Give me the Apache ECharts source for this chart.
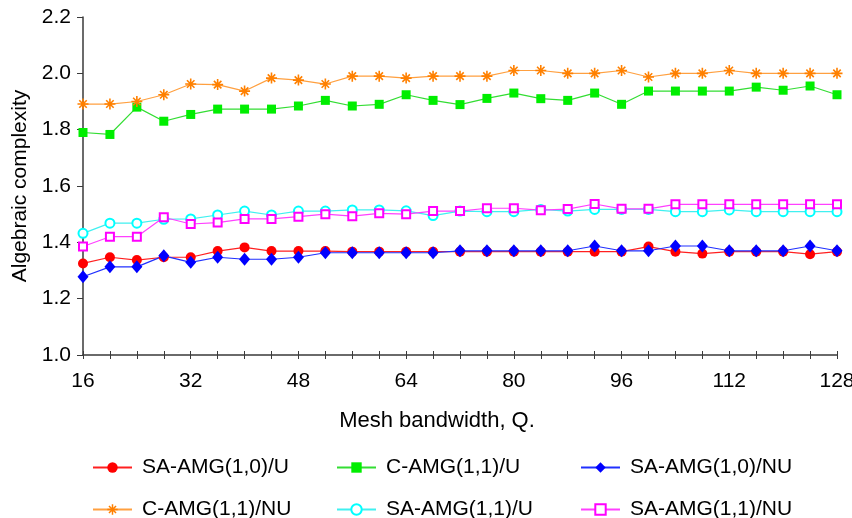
<!DOCTYPE html>
<html>
<head>
<meta charset="utf-8">
<script src="https://cdn.jsdelivr.net/npm/echarts@6/dist/echarts.min.js"></script>
<style>
html,body{margin:0;padding:0;background:#fff;}
#chart{width:852px;height:518px;}
</style>
</head>
<body>
<div id="chart"></div>
<script>
const meshQ = [16,20,24,28,32,36,40,44,48,52,56,60,64,68,72,76,80,84,88,92,96,100,104,108,112,116,120,124,128];
const saAmg10U  = [1.325,1.347,1.337,1.347,1.347,1.369,1.382,1.369,1.369,1.369,1.367,1.367,1.367,1.367,1.367,1.367,1.367,1.367,1.367,1.367,1.367,1.385,1.367,1.360,1.367,1.367,1.367,1.358,1.367];
const cAmg11U   = [1.790,1.783,1.880,1.830,1.854,1.873,1.873,1.873,1.884,1.904,1.884,1.890,1.924,1.904,1.889,1.911,1.930,1.910,1.904,1.930,1.890,1.937,1.937,1.937,1.937,1.951,1.940,1.955,1.924];
const saAmg10NU = [1.278,1.313,1.313,1.352,1.329,1.347,1.340,1.340,1.347,1.363,1.363,1.363,1.363,1.363,1.370,1.370,1.370,1.370,1.370,1.387,1.370,1.370,1.387,1.387,1.370,1.370,1.370,1.387,1.370];
const cAmg11NU  = [1.891,1.891,1.900,1.924,1.962,1.960,1.937,1.983,1.976,1.962,1.990,1.990,1.983,1.990,1.990,1.990,2.010,2.010,2.000,2.000,2.010,1.987,2.000,2.000,2.010,2.000,2.000,2.000,2.000];
const saAmg11U  = [1.432,1.468,1.468,1.482,1.483,1.497,1.511,1.497,1.511,1.511,1.515,1.515,1.512,1.495,1.511,1.509,1.509,1.517,1.511,1.517,1.517,1.517,1.509,1.509,1.515,1.509,1.509,1.509,1.509];
const saAmg11NU = [1.385,1.420,1.420,1.489,1.465,1.470,1.483,1.483,1.491,1.500,1.493,1.503,1.500,1.511,1.511,1.521,1.521,1.514,1.518,1.536,1.519,1.519,1.535,1.535,1.535,1.535,1.535,1.535,1.535];
const seriesNames = ['SA-AMG(1,0)/U','C-AMG(1,1)/U','SA-AMG(1,0)/NU','C-AMG(1,1)/NU','SA-AMG(1,1)/U','SA-AMG(1,1)/NU'];
const xTicks = [16,32,48,64,80,96,112,128];
const yTicks = [1.0,1.2,1.4,1.6,1.8,2.0,2.2];

const FONT = "'Liberation Sans', Arial, Helvetica, sans-serif";
const pair = arr => meshQ.map((q,i)=>[q,arr[i]]);
const asterisk = 'path://M5 0L5 10M0 5L10 5M1.6 1.6L8.4 8.4M8.4 1.6L1.6 8.4';

function mk(name, data, opts){
  return Object.assign({
    name, type:'line', data: pair(data), xAxisIndex:0, yAxisIndex:0,
    animation:false
  }, opts);
}

const series = [
  mk(seriesNames[0], saAmg10U, {symbol:'circle', symbolSize:10,
     itemStyle:{color:'#ff0000'}, lineStyle:{color:'#ff2020', width:1.2}}),
  mk(seriesNames[1], cAmg11U, {symbol:'rect', symbolSize:9,
     itemStyle:{color:'#00ee00'}, lineStyle:{color:'#33dd33', width:1.2}}),
  mk(seriesNames[2], saAmg10NU, {symbol:'diamond', symbolSize:[11,13],
     itemStyle:{color:'#0000ff'}, lineStyle:{color:'#2030ff', width:1.2}}),
  mk(seriesNames[3], cAmg11NU, {symbol:asterisk, symbolSize:11,
     itemStyle:{color:'#ff8000', borderColor:'#ff8000', borderWidth:1.6}, lineStyle:{color:'#ffa040', width:1.2}}),
  mk(seriesNames[4], saAmg11U, {symbol:'emptyCircle', symbolSize:9,
     itemStyle:{color:'#00ffff', borderColor:'#00eeee', borderWidth:1.2}, lineStyle:{color:'#40f0f0', width:1.2}}),
  mk(seriesNames[5], saAmg11NU, {symbol:'emptyRect', symbolSize:8,
     itemStyle:{color:'#ff00ff', borderColor:'#ff30ff', borderWidth:1.2}, lineStyle:{color:'#ff40ff', width:1.2}})
];

const legendPos = [[92,457],[336,457],[580,457],[92,499],[336,499],[580,499]];
const legends = seriesNames.map((n,i)=>({
  data:[n], left:legendPos[i][0], top:legendPos[i][1], padding:0,
  itemWidth:39, itemHeight:13, orient:'horizontal', selectedMode:false,
  lineStyle:{width:2},
  itemStyle: i===3 ? {borderColor:'#ff8000', borderWidth:1.5} : {},
  textStyle:{fontFamily:FONT, fontSize:21, color:'#000', padding:[0,0,0,5]}
}));

const chart = echarts.init(document.getElementById('chart'), null, {renderer:'canvas'});
chart.setOption({
  animation:false,
  backgroundColor:'#ffffff',
  grid:{left:83, right:15, top:17, bottom:163, containLabel:false, outerBoundsMode:'none'},
  legend: legends,
  xAxis:[{
    type:'value', min:16, max:128, interval:4,
    name:'Mesh bandwidth, Q.', nameLocation:'middle', nameGap:55,
    nameTextStyle:{fontFamily:FONT, fontSize:22, color:'#000', padding:[0,46,0,0]},
    axisLine:{show:true, onZero:false, lineStyle:{color:'#3a3a3a', width:1.5}},
    axisTick:{show:true, inside:false, length:4, lineStyle:{color:'#3a3a3a', width:1}},
    axisLabel:{margin:16, fontFamily:FONT, fontSize:21, color:'#000', hideOverlap:false,
      formatter: v => xTicks.indexOf(v) >= 0 ? String(v) : ''},
    splitLine:{show:false}
  },{
    type:'value', min:16, max:128, interval:4, position:'bottom',
    axisLine:{show:false},
    axisTick:{show:true, inside:true, length:4, lineStyle:{color:'#3a3a3a', width:1}},
    axisLabel:{show:false}, splitLine:{show:false}
  }],
  yAxis:{
    type:'value', min:1.0, max:2.2, interval:0.2,
    name:'Algebraic complexity', nameLocation:'middle', nameGap:45, nameRotate:90,
    nameTextStyle:{fontFamily:FONT, fontSize:21, color:'#000'},
    axisLine:{show:true, onZero:false, lineStyle:{color:'#3a3a3a', width:1.5}},
    axisTick:{show:true, inside:false, length:6, lineStyle:{color:'#3a3a3a', width:1}},
    axisLabel:{margin:12, fontFamily:FONT, fontSize:21, color:'#000',
      formatter: v => {
        const t = yTicks.find(y => Math.abs(y - v) < 1e-6);
        return t === undefined ? '' : t.toFixed(1);
      }},
    splitLine:{show:false}
  },
  series
});
</script>
</body>
</html>
